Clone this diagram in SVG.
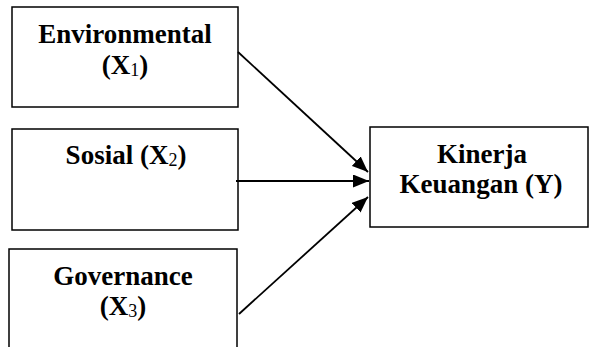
<svg xmlns="http://www.w3.org/2000/svg" width="589" height="347" viewBox="0 0 589 347">
  <defs>
    <style>
      .box { fill: #fff; stroke: #000; stroke-width: 1.5; }
      .lbl { font-family: "Liberation Serif", "Times New Roman", serif; font-weight: bold; font-size: 27px; fill: #000; text-anchor: middle; }
      .sub { font-size: 18px; font-weight: normal; }
      .conn { stroke: #000; stroke-width: 1.8; fill: none; marker-end: url(#arrow); }
    </style>
    <marker id="arrow" markerWidth="16" markerHeight="13" refX="16" refY="6.5" orient="auto" markerUnits="userSpaceOnUse" viewBox="0 0 16 13">
      <path d="M0,0 L16,6.5 L0,13 Z" fill="#000"/>
    </marker>
  </defs>
  <rect width="589" height="347" fill="#fff"/>

  <g id="node-environmental">
    <rect class="box" x="12" y="7" width="226" height="100"/>
    <text class="lbl" x="125" y="43">Environmental</text>
    <text class="lbl" x="125" y="74">(X<tspan class="sub" dy="2">1</tspan><tspan dy="-2">)</tspan></text>
  </g>

  <g id="node-sosial">
    <rect class="box" x="12" y="129" width="226" height="101"/>
    <text class="lbl" x="126" y="164">Sosial (X<tspan class="sub" dy="2">2</tspan><tspan dy="-2">)</tspan></text>
  </g>

  <g id="node-governance">
    <rect class="box" x="9" y="249" width="228" height="110"/>
    <text class="lbl" x="123" y="285">Governance</text>
    <text class="lbl" x="123" y="315">(X<tspan class="sub" dy="2">3</tspan><tspan dy="-2">)</tspan></text>
  </g>

  <g id="node-kinerja">
    <rect class="box" x="370" y="127" width="218" height="100"/>
    <text class="lbl" x="482" y="163">Kinerja</text>
    <text class="lbl" x="481" y="193">Keuangan (Y)</text>
  </g>

  <g id="connectors">
    <line class="conn" x1="238" y1="52" x2="368" y2="172"/>
    <line class="conn" x1="236" y1="181" x2="369" y2="181"/>
    <line class="conn" x1="239" y1="314" x2="368" y2="197"/>
  </g>
</svg>
